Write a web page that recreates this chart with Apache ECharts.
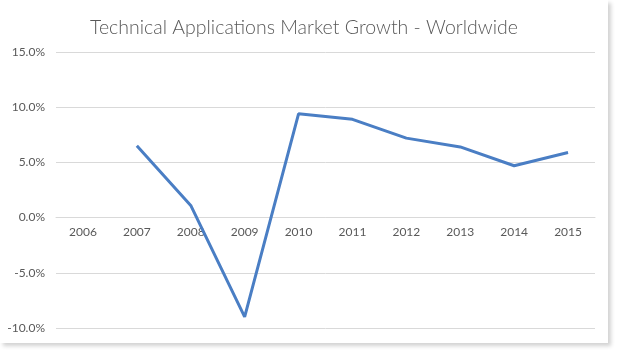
<!DOCTYPE html>
<html>
<head>
<meta charset="utf-8">
<script src="https://cdn.jsdelivr.net/npm/echarts@6/dist/echarts.min.js"></script>
<style>
  body { margin: 0; background: #fff; }
  #chart { position: absolute; left: 0; top: 0; width: 608px; height: 343px; background: #fff;
           box-shadow: 3px 3px 4px rgba(0,0,0,0.18); }
</style>
</head>
<body>
<div id="chart"></div>
<script>
var years = ['2006', '2007', '2008', '2009', '2010', '2011', '2012', '2013', '2014', '2015'];
var growth = [null, 6.5, 1.1, -9.0, 9.4, 8.9, 7.2, 6.4, 4.7, 5.9];
var yTicks = { min: -10, max: 15, interval: 5 };

var gridTop = 52, gridBottom = 15, chartH = 343;
// onZero doesn't kick in here, so shift the category axis up to the 0% line by hand
var plotH = chartH - gridTop - gridBottom;
var zeroShift = plotH * (0 - yTicks.min) / (yTicks.max - yTicks.min);

var myChart = echarts.init(document.getElementById('chart'));
var option = {
    animation: false,
    title: {
        text: 'Technical Applications Market Growth - Worldwide',
        left: 'center',
        top: 13,
        textStyle: { fontFamily: 'Lato', fontWeight: 300, fontSize: 19.5, color: '#595959' }
    },
    grid: { left: 56, right: 13, top: gridTop, bottom: gridBottom, outerBoundsMode: 'none' },
    xAxis: {
        type: 'category',
        data: years,
        offset: -zeroShift,
        axisLine: { show: true, onZero: false, lineStyle: { color: '#d9d9d9', width: 1 } },
        axisTick: { show: false },
        axisLabel: { color: '#595959', fontFamily: 'Lato', fontSize: 12, margin: 9 }
    },
    yAxis: {
        type: 'value',
        min: yTicks.min,
        max: yTicks.max,
        interval: yTicks.interval,
        axisLabel: {
            color: '#595959', fontFamily: 'Lato', fontSize: 12, margin: 11,
            formatter: function (v) { return v.toFixed(1) + '%'; }
        },
        splitLine: { lineStyle: { color: '#d9d9d9', width: 1 } }
    },
    series: [{
        type: 'line',
        data: growth,
        symbol: 'none',
        lineStyle: { color: '#4a7ec4', width: 3 }
    }]
};
myChart.setOption(option);
</script>
</body>
</html>
